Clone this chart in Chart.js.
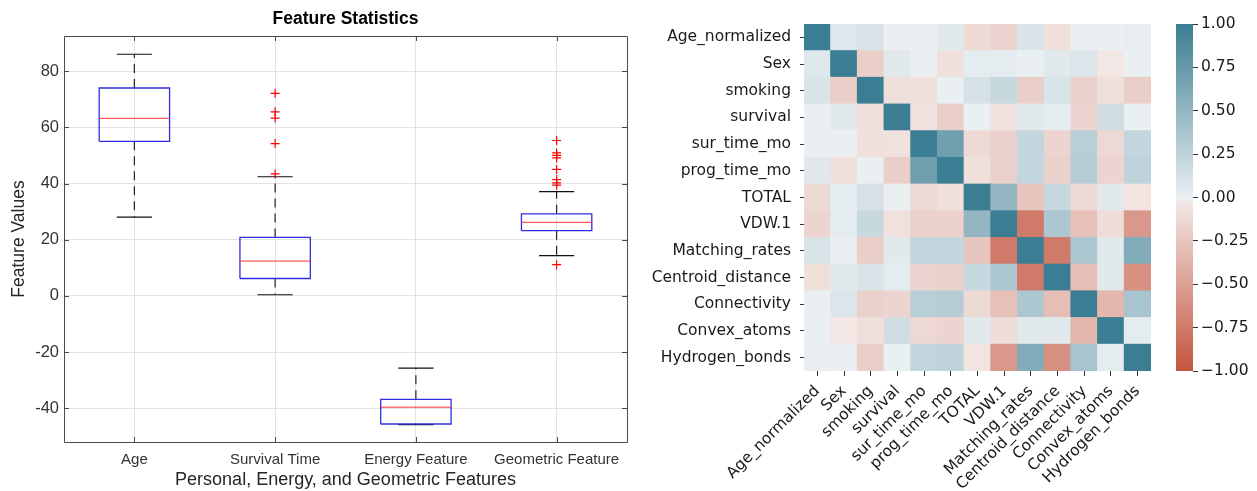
<!DOCTYPE html>
<html><head><meta charset="utf-8">
<script src="https://cdn.jsdelivr.net/npm/chart.js@4.4.1/dist/chart.umd.min.js"></script>
<style>
html,body{margin:0;padding:0;background:#fff;}
body{width:1257px;height:491px;position:relative;overflow:hidden;}
.box{position:absolute;top:0;height:491px;}
</style></head><body>
<div class="box" style="left:0;width:650px"><canvas id="boxChart"></canvas></div>
<div class="box" style="left:650px;width:520px"><canvas id="heatChart"></canvas></div>
<div class="box" style="left:1160px;width:97px"><canvas id="barChart"></canvas></div>
<script>
// ---------------- data: box plot ----------------
const featureNames = ['Age', 'Survival Time', 'Energy Feature', 'Geometric Feature'];
const whiskerLow  = [28, 0.4, -45.8, 14.3];
const q1          = [55, 6.2, -45.6, 23.2];
const medians     = [63.2, 12.4, -39.6, 26.2];
const q3          = [74, 20.8, -36.8, 29.2];
const whiskerHigh = [86, 42.4, -25.7, 37.1];
const outliersAge = [];
const outliersSurvival = [72.1, 65.5, 63.3, 54.2, 43.4];
const outliersEnergy = [];
const outliersGeometric = [55.3, 50.9, 50.0, 49.1, 45.0, 41.4, 40.2, 39.4, 11.1];
const boxTicks = [-40, -20, 0, 20, 40, 60, 80];

// ---------------- data: correlation heatmap ----------------
const varNames = ['Age_normalized','Sex','smoking','survival','sur_time_mo','prog_time_mo','TOTAL','VDW.1','Matching_rates','Centroid_distance','Connectivity','Convex_atoms','Hydrogen_bonds'];
const corrAge      = [1, 0.07, 0.1, 0.0, 0.0, 0.05, -0.12, -0.15, 0.1, -0.08, 0.0, 0.0, 0.02];
const corrSex      = [0.07, 1, -0.2, 0.05, 0.0, -0.08, 0.03, 0.03, 0.0, 0.05, 0.08, -0.03, 0.0];
const corrSmoking  = [0.1, -0.2, 1, -0.08, -0.08, 0.0, 0.12, 0.2, -0.2, 0.1, -0.18, -0.08, -0.2];
const corrSurvival = [0.0, 0.05, -0.08, 1, -0.07, -0.2, 0.0, -0.07, 0.05, 0.03, -0.15, 0.15, 0.0];
const corrSurTime  = [0.0, 0.0, -0.08, -0.07, 1, 0.7, -0.12, -0.18, 0.22, -0.15, 0.28, -0.13, 0.22];
const corrProgTime = [0.05, -0.08, 0.0, -0.2, 0.7, 1, -0.08, -0.18, 0.22, -0.18, 0.3, -0.15, 0.25];
const corrTotal    = [-0.12, 0.03, 0.12, 0.0, -0.12, -0.08, 1, 0.5, -0.25, 0.2, -0.12, 0.05, -0.05];
const corrVdw      = [-0.15, 0.03, 0.2, -0.07, -0.18, -0.18, 0.5, 1, -0.75, 0.35, -0.28, -0.1, -0.55];
const corrMatching = [0.1, 0.0, -0.2, 0.05, 0.22, 0.22, -0.25, -0.75, 1, -0.75, 0.35, 0.05, 0.6];
const corrCentroid = [-0.08, 0.05, 0.1, 0.03, -0.15, -0.18, 0.2, 0.35, -0.75, 1, -0.3, 0.05, -0.6];
const corrConnect  = [0.0, 0.08, -0.18, -0.15, 0.28, 0.3, -0.12, -0.28, 0.35, -0.3, 1, -0.35, 0.38];
const corrConvex   = [0.0, -0.03, -0.08, 0.15, -0.13, -0.15, 0.05, -0.1, 0.05, 0.05, -0.35, 1, 0.03];
const corrHydrogen = [0.02, 0.0, -0.2, 0.0, 0.22, 0.25, -0.05, -0.55, 0.6, -0.6, 0.38, 0.03, 1];
const colorbarTicks = [-1, -0.75, -0.5, -0.25, 0, 0.25, 0.5, 0.75, 1];

const corrRows = [corrAge, corrSex, corrSmoking, corrSurvival, corrSurTime, corrProgTime, corrTotal, corrVdw, corrMatching, corrCentroid, corrConnect, corrConvex, corrHydrogen];
const outliers = [outliersAge, outliersSurvival, outliersEnergy, outliersGeometric];

// ---------------- box plot ----------------
const BOX_HALF = 0.25, CAP_HALF = 0.125;
const gap = {x: NaN, y: NaN};
const boxPts = [], whiskPts = [], capPts = [], medPts = [], outPts = [];
featureNames.forEach((_, k) => {
  const i = k + 1;
  boxPts.push({x:i-BOX_HALF,y:q1[k]},{x:i+BOX_HALF,y:q1[k]},{x:i+BOX_HALF,y:q3[k]},{x:i-BOX_HALF,y:q3[k]},{x:i-BOX_HALF,y:q1[k]},gap);
  whiskPts.push({x:i,y:q3[k]},{x:i,y:whiskerHigh[k]},gap,{x:i,y:q1[k]},{x:i,y:whiskerLow[k]},gap);
  capPts.push({x:i-CAP_HALF,y:whiskerHigh[k]},{x:i+CAP_HALF,y:whiskerHigh[k]},gap,{x:i-CAP_HALF,y:whiskerLow[k]},{x:i+CAP_HALF,y:whiskerLow[k]},gap);
  medPts.push({x:i-BOX_HALF,y:medians[k]},{x:i+BOX_HALF,y:medians[k]},gap);
  outliers[k].forEach(v => outPts.push({x:i, y:v}));
});

const frame = {
  id: 'frame',
  afterDraw(chart) {
    const {ctx, chartArea: a, scales: {x, y}} = chart;
    ctx.save();
    ctx.strokeStyle = '#4a4a4a';
    ctx.lineWidth = 1;
    ctx.beginPath();
    ctx.rect(Math.round(a.left)+0.5, Math.round(a.top)+0.5, Math.round(a.right-a.left), Math.round(a.bottom-a.top));
    x.ticks.forEach(t => {
      const px = Math.round(x.getPixelForValue(t.value)) + 0.5;
      ctx.moveTo(px, a.bottom); ctx.lineTo(px, a.bottom - 5);
      ctx.moveTo(px, a.top); ctx.lineTo(px, a.top + 5);
    });
    y.ticks.forEach(t => {
      const py = Math.round(y.getPixelForValue(t.value)) + 0.5;
      ctx.moveTo(a.left, py); ctx.lineTo(a.left + 5, py);
      ctx.moveTo(a.right, py); ctx.lineTo(a.right - 5, py);
    });
    ctx.stroke();
    ctx.restore();
  }
};

const sansM = 'Liberation Sans, Arial, Helvetica, sans-serif';
new Chart(document.getElementById('boxChart'), {
  type: 'scatter',
  data: { datasets: [
    {data: outPts, showLine:false, pointStyle:'cross', pointRadius:4.5, borderColor:'#ff0000', borderWidth:1.2},
    {data: medPts, showLine:true, pointRadius:0, borderColor:'#ff3030', borderWidth:1, spanGaps:false},
    {data: boxPts, showLine:true, pointRadius:0, borderColor:'#2e2ee0', borderWidth:1.3, spanGaps:false},
    {data: capPts, showLine:true, pointRadius:0, borderColor:'#111', borderWidth:1.2, spanGaps:false},
    {data: whiskPts, showLine:true, pointRadius:0, borderColor:'#222', borderWidth:1.2, borderDash:[9,6], spanGaps:false}
  ]},
  options: {
    animation:false, responsive:true, maintainAspectRatio:false,
    layout:{padding:{left:0, right:23, top:0, bottom:0}},
    plugins:{
      legend:{display:false}, tooltip:{enabled:false},
      title:{display:true, fullSize:false, text:'Feature Statistics', color:'#000', font:{family:sansM, size:17.5, weight:'bold'}, padding:{top:9, bottom:6}}
    },
    scales:{
      x:{type:'linear', min:0.5, max:4.5,
        afterBuildTicks: s => { s.ticks = [1,2,3,4].map(v => ({value:v})); },
        ticks:{callback: v => featureNames[Math.round(v)-1], autoSkip:false, maxRotation:0, color:'#333', font:{family:sansM, size:15}, padding:9},
        grid:{color:'#e3e3e3', drawTicks:false}, border:{display:false},
        title:{display:true, text:'Personal, Energy, and Geometric Features', color:'#262626', font:{family:sansM, size:18}, padding:{top:0, bottom:0}},
        afterFit: s => { s.height = 49; }
      },
      y:{min:-52, max:92.5,
        afterBuildTicks: s => { s.ticks = boxTicks.map(v => ({value:v})); },
        ticks:{color:'#333', font:{family:sansM, size:16.5}, padding:5},
        grid:{color:'#e3e3e3', drawTicks:false}, border:{display:false},
        title:{display:true, text:'Feature Values', color:'#262626', font:{family:sansM, size:17.5}, padding:{top:9, bottom:0}},
        afterFit: s => { s.width = 64; }
      }
    }
  },
  plugins:[frame]
});

// ---------------- heatmap ----------------
const NEG = [196, 84, 62], POS = [59, 125, 146], NEG_L = [243, 236, 234], POS_L = [234, 239, 242];
function corrColor(v) {
  const t = Math.min(1, Math.abs(v));
  const a = v < 0 ? NEG_L : POS_L, b = v < 0 ? NEG : POS;
  const c = a.map((av, j) => Math.round(av + (b[j] - av) * t));
  return `rgb(${c[0]},${c[1]},${c[2]})`;
}
const nVar = varNames.length;
const heatDatasets = varNames.map((_, k) => {
  const r = nVar - 1 - k;
  return {label: varNames[r], data: varNames.map(() => 1), backgroundColor: corrRows[r].map(corrColor),
          borderWidth:0, inflateAmount:0.5, barPercentage:1, categoryPercentage:1};
});
const sansD = 'DejaVu Sans, sans-serif';
new Chart(document.getElementById('heatChart'), {
  type:'bar',
  data:{labels: varNames, datasets: heatDatasets},
  options:{
    animation:false, responsive:true, maintainAspectRatio:false,
    layout:{padding:{left:0, right:19, top:24, bottom:0}},
    plugins:{legend:{display:false}, tooltip:{enabled:false}},
    scales:{
      x:{stacked:true,
        ticks:{autoSkip:false, minRotation:45, maxRotation:45, color:'#1a1a1a', font:{family:sansD, size:15.5}, padding:6},
        grid:{drawOnChartArea:false, tickLength:5, tickColor:'#333', offset:false}, border:{display:false},
        afterFit: s => { s.height = 120; }
      },
      y:{stacked:true, min:0, max:nVar,
        afterBuildTicks: s => { s.ticks = varNames.map((_, k) => ({value: k + 0.5})); },
        ticks:{callback: v => varNames[nVar - 1 - Math.floor(v)], color:'#1a1a1a', font:{family:sansD, size:15.5}, padding:9},
        grid:{drawOnChartArea:false, tickLength:4, tickColor:'#333'}, border:{display:false},
        afterFit: s => { s.width = 154; }
      }
    }
  }
});

// ---------------- colorbar ----------------
const fmt = v => v.toFixed(2).replace('-', '\u2212');
new Chart(document.getElementById('barChart'), {
  type:'bar',
  data:{labels:[''], datasets:[{
    data:[[-1, 1]], borderWidth:0, barPercentage:1, categoryPercentage:1,
    backgroundColor: (ctx) => {
      const a = ctx.chart.chartArea;
      if (!a) return 'rgba(0,0,0,0)';
      const g = ctx.chart.ctx.createLinearGradient(0, a.bottom, 0, a.top);
      for (let s = 0; s <= 40; s++) g.addColorStop(s / 40, corrColor(-1 + s / 20));
      return g;
    }
  }]},
  options:{
    animation:false, responsive:true, maintainAspectRatio:false,
    layout:{padding:{left:16, right:0, top:24, bottom:120}},
    plugins:{legend:{display:false}, tooltip:{enabled:false}},
    scales:{
      x:{display:false},
      y:{position:'right', min:-1, max:1,
        afterBuildTicks: s => { s.ticks = colorbarTicks.map(v => ({value:v})); },
        ticks:{callback: v => fmt(v), color:'#1a1a1a', font:{family:sansD, size:15.5}, padding:3},
        grid:{drawOnChartArea:false, tickLength:5, tickColor:'#333'}, border:{display:false},
        afterFit: s => { s.width = 64; }
      }
    }
  }
});
</script>
</body></html>
